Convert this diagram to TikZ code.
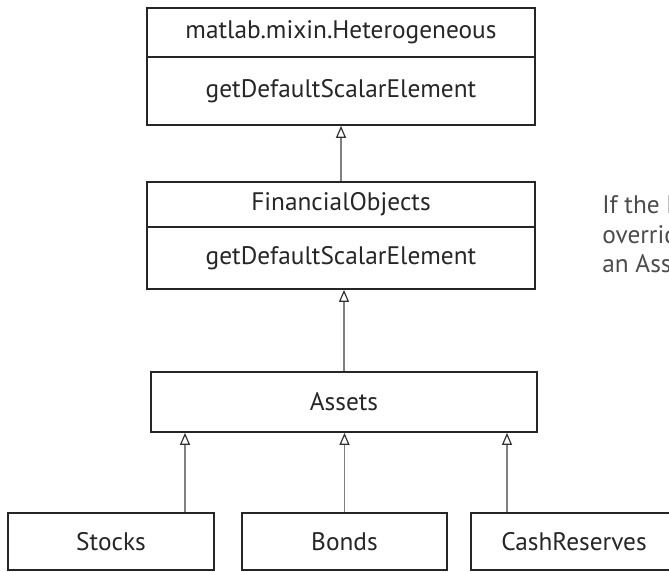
\documentclass[tikz,border=0pt]{standalone}
\usepackage{fontspec}
\setmainfont{PT Sans}
\usetikzlibrary{arrows.meta}
\begin{document}
\begin{tikzpicture}[x=0.75pt,y=-0.75pt,
  box/.style={draw=black!85,line width=1.3pt,inner sep=0pt,fill=white,
    font=\fontsize{19}{22}\selectfont,text=black!85},
  inh/.style={draw=black!50,line width=0.8pt,
    -{Triangle[open,length=9pt,width=7.5pt,line width=0.9pt,color=black!80,fill=white]}},
  note/.style={anchor=base west,inner sep=0pt,text=black!70,
    font=\fontsize{19}{22}\selectfont}]
\useasboundingbox (0,0) rectangle (669,572);
\clip (0,0) rectangle (669,572);
% top class
\node[box,minimum width=291pt,minimum height=36.75pt] (hetN) at (341,32.5) {matlab.mixin.Heterogeneous};
\node[box,minimum width=291pt,minimum height=51pt] (hetM) at (341,91) {getDefaultScalarElement};
% FinancialObjects
\node[box,minimum width=291pt,minimum height=33.75pt] (finN) at (341,204.5) {FinancialObjects};
\node[box,minimum width=291pt,minimum height=46.5pt] (finM) at (341,258) {getDefaultScalarElement};
% Assets
\node[box,minimum width=289.5pt,minimum height=45pt] (assets) at (344,402) {Assets};
% children
\node[box,minimum width=154.5pt,minimum height=42.75pt] (stocks) at (111,541.5) {Stocks};
\node[box,minimum width=153.75pt,minimum height=42.75pt] (bonds) at (344.5,541.5) {Bonds};
\node[box,minimum width=154.5pt,minimum height=42.75pt] (cash) at (574,541.5) {CashReserves};
% note (cut off by the picture edge, as in the reference)
\node[note] (txt1) at (602,213) {If the Financial};
\node[note] (txt2) at (602,243) {overrides};
\node[note] (txt3) at (602,272) {an Assets};
% connectors
\draw[inh] (finN.north) -- (hetM.south);
\draw[inh] (assets.north) -- (assets.north |- finM.south);
\draw[inh] ([xshift=55.5pt]stocks.north) coordinate (s1) -- (s1 |- assets.south);
\draw[inh] (bonds.north) -- (bonds.north |- assets.south);
\draw[inh] ([xshift=-50.25pt]cash.north) coordinate (c1) -- (c1 |- assets.south);
\end{tikzpicture}
\end{document}
